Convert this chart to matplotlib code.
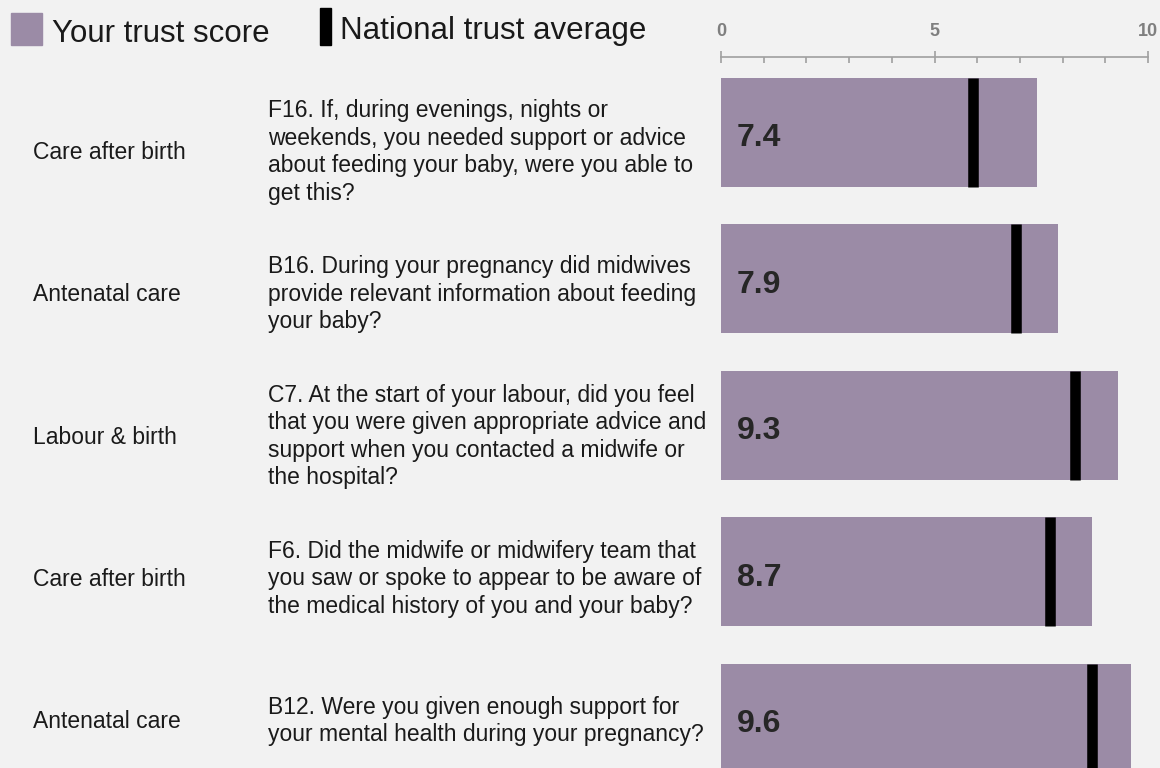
import matplotlib
matplotlib.use("Agg")
import matplotlib.pyplot as plt
from matplotlib.patches import Rectangle
from matplotlib.ticker import MultipleLocator

plt.rcParams['font.family'] = ['Liberation Sans', 'DejaVu Sans']

# data
sections = ['Care after birth', 'Antenatal care', 'Labour & birth',
            'Care after birth', 'Antenatal care']
questions = [
    'F16. If, during evenings, nights or\nweekends, you needed support or advice\n'
    'about feeding your baby, were you able to\nget this?',
    'B16. During your pregnancy did midwives\nprovide relevant information about feeding\n'
    'your baby?',
    'C7. At the start of your labour, did you feel\nthat you were given appropriate advice and\n'
    'support when you contacted a midwife or\nthe hospital?',
    'F6. Did the midwife or midwifery team that\nyou saw or spoke to appear to be aware of\n'
    'the medical history of you and your baby?',
    'B12. Were you given enough support for\nyour mental health during your pregnancy?',
]
trust_score = [7.4, 7.9, 9.3, 8.7, 9.6]
national_avg = [5.9, 6.9, 8.3, 7.7, 8.7]

W, H = 1160, 768
bar_col = '#9b8ba6'
bg = '#f2f2f2'

fig = plt.figure(figsize=(W / 100, H / 100), dpi=100, facecolor=bg)
ax = fig.add_axes([721 / W, 0, (1148 - 721) / W, 1 - 57 / H], facecolor=bg)

rows = list(range(len(trust_score)))
bh = 0.744
ax.barh(rows, trust_score, height=bh, color=bar_col, edgecolor='none')
ax.vlines(national_avg, [r - bh / 2 for r in rows], [r + bh / 2 for r in rows],
          color='black', linewidth=7.6, capstyle='butt')

for r, v in zip(rows, trust_score):
    ax.text(0.37, r + 0.02, f'{v:.1f}', ha='left', va='center_baseline', fontsize=23,
            fontweight='bold', color='#262626')

ax.set_xlim(0, 10)
ax.set_ylim(4.341, -0.512)

# axis on top
for s in ['left', 'right', 'bottom']:
    ax.spines[s].set_visible(False)
ax.spines['top'].set_color('#a0a0a0')
ax.spines['top'].set_linewidth(1.2)
ax.xaxis.tick_top()
ax.set_xticks([0, 5, 10])
ax.xaxis.set_minor_locator(MultipleLocator(1))
ax.tick_params(axis='x', which='major', direction='inout', length=9, width=1.2,
               color='#a0a0a0', pad=8, labelsize=13, labelcolor='#7f7f7f')
ax.tick_params(axis='x', which='minor', direction='in', length=4, width=1.2,
               color='#a0a0a0')
for lab in ax.get_xticklabels():
    lab.set_fontweight('bold')
ax.set_yticks([])

# row texts
for r, (sec, q) in enumerate(zip(sections, questions)):
    ypx = 150 + 142.3 * r
    fig.text(33 / W, 1 - ypx / H, sec, ha='left', va='center_baseline',
             fontsize=16.5, color='#1a1a1a')
    fig.text(268 / W, 1 - (ypx + 2) / H, q, ha='left', va='center',
             fontsize=16.5, color='#1a1a1a', linespacing=1.25)

# legend
fig.patches.append(Rectangle((11 / W, 1 - 45 / H), 31 / W, 32 / H,
                             transform=fig.transFigure, color=bar_col))
fig.text(52 / W, 1 - 30 / H, 'Your trust score', ha='left', va='center_baseline',
         fontsize=22.5, color='#1a1a1a')
fig.patches.append(Rectangle((320 / W, 1 - 45 / H), 11 / W, 37 / H,
                             transform=fig.transFigure, color='black'))
fig.text(340 / W, 1 - 28 / H, 'National trust average', ha='left',
         va='center_baseline', fontsize=22.5, color='#1a1a1a')

fig.savefig('out.png', dpi=100, facecolor=bg)
